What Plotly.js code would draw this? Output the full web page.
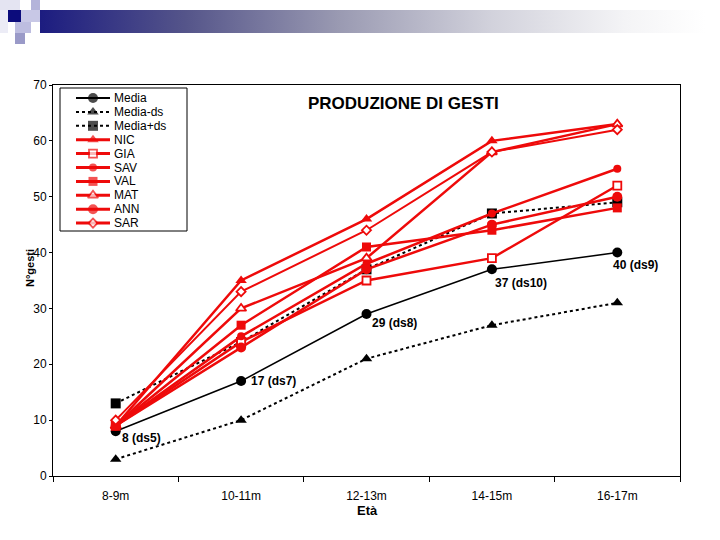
<!DOCTYPE html>
<html>
<head>
<meta charset="utf-8">
<script src="https://cdn.plot.ly/plotly-3.0.1.min.js"></script>
<style>
  html, body { margin:0; padding:0; background:#fff; }
  #wrap { position:relative; width:720px; height:540px; overflow:hidden; }
  #chart { position:absolute; left:0; top:0; width:720px; height:540px; }
  .deco { position:absolute; pointer-events:none; }
</style>
</head>
<body>
<div id="wrap">
  <div id="chart"></div>
  <div class="deco" style="left:40px;top:10px;width:665px;height:23px;background:linear-gradient(to right,#1c1c80 0%,#55558a 22%,#9a9ab2 45%,#d2d2dc 68%,#f4f4f6 88%,#ffffff 100%);"></div>
  <div class="deco" style="left:0px;top:0px;width:20px;height:10px;background:#e4e4f2;"></div>
  <div class="deco" style="left:31px;top:0px;width:9px;height:10px;background:#b4b4da;"></div>
  <div class="deco" style="left:8px;top:10px;width:13px;height:12px;background:#0c0c7c;"></div>
  <div class="deco" style="left:21px;top:10px;width:19px;height:12px;background:#c8c8e6;"></div>
  <div class="deco" style="left:0px;top:10px;width:8px;height:23px;background:#ececf6;"></div>
  <div class="deco" style="left:15px;top:22px;width:16px;height:11px;background:#bdbde0;"></div>
  <div class="deco" style="left:15px;top:33px;width:10px;height:11px;background:#9a9ac8;"></div>
</div>
<script>
// ---- data ----
const categories = ['8-9m', '10-11m', '12-13m', '14-15m', '16-17m'];
const media      = [8, 17, 29, 37, 40];
const mediaMinus = [3, 10, 21, 27, 31];
const mediaPlus  = [13, 24, 37, 47, 49];
const nic = [9, 35, 46, 60, 63];
const gia = [9, 24, 35, 39, 52];
const sav = [9, 25, 38, 47, 55];
const val = [9, 27, 41, 44, 48];
const mat = [9, 30, 39, 58, 63];
const ann = [9, 23, 37, 45, 50];
const sar = [10, 33, 44, 58, 62];
const mediaLabels = ['8 (ds5)', '17 (ds7)', '29 (ds8)', '37 (ds10)', '40 (ds9)'];
const seriesNames = ['Media', 'Media-ds', 'Media+ds', 'NIC', 'GIA', 'SAV', 'VAL', 'MAT', 'ANN', 'SAR'];
const yTicks = [0, 10, 20, 30, 40, 50, 60, 70];

// ---- styles ----
const RED = '#ee0a0a';
const seriesValues = [media, mediaMinus, mediaPlus, nic, gia, sav, val, mat, ann, sar];
const styles = [
  {color:'#000', width:1.5, dash:'solid', symbol:'circle', size:10, fill:'#000'},
  {color:'#000', width:2, dash:'dot', symbol:'triangle-up', size:10, fill:'#000'},
  {color:'#000', width:2, dash:'dot', symbol:'square', size:10, fill:'#000'},
  {color:RED, width:2.5, dash:'solid', symbol:'triangle-up', size:10, fill:RED},
  {color:RED, width:2.5, dash:'solid', symbol:'square', size:8, fill:'#fff'},
  {color:RED, width:2.5, dash:'solid', symbol:'circle', size:8, fill:RED},
  {color:RED, width:2.5, dash:'solid', symbol:'square', size:9, fill:RED},
  {color:RED, width:2.5, dash:'solid', symbol:'triangle-up', size:9, fill:'#fff'},
  {color:RED, width:2.5, dash:'solid', symbol:'circle', size:10, fill:RED},
  {color:RED, width:2, dash:'solid', symbol:'diamond', size:7, fill:'#fff'}
];
// label offsets (px) for the Media annotations
const labelShift = [[4,-7],[8,0],[3,-9],[1,-14],[-6,-12]];

// plot-area pixel geometry
const L = 53, R = 680, T = 85, B = 476;
const px2x = p => (p - L) / (R - L);
const py2y = p => (B - p) / (B - T);

const traces = [];
seriesValues.forEach((vals, i) => {
  const s = styles[i];
  traces.push({
    type:'scatter', mode:'lines+markers', x:categories, y:vals, name:seriesNames[i],
    showlegend:false, hoverinfo:'skip',
    line:{color:s.color, width:s.width, dash:s.dash},
    marker:{symbol:s.symbol, size:s.size, color:s.fill, line:{color:s.color, width: s.fill === '#fff' ? 1.8 : 0}}
  });
});

// custom legend (compact, as in the reference)
const legTop = 98, legStep = 13.9;
const annotations = [];
seriesNames.forEach((nm, i) => {
  const s = styles[i];
  const yy = py2y(legTop + i * legStep);
  traces.push({
    type:'scatter', mode:'lines+markers', xaxis:'x2', yaxis:'y2',
    x:[px2x(76), px2x(93), px2x(110)], y:[yy, yy, yy],
    showlegend:false, hoverinfo:'skip',
    line:{color:s.color, width: i < 3 ? 2 : 3, dash:s.dash},
    marker:{symbol:s.symbol, size:[0, s.size, 0], color:s.fill, line:{color:s.color, width: s.fill === '#fff' ? 1.8 : 0}}
  });
  annotations.push({
    xref:'paper', yref:'paper', x:px2x(112), y:yy, xanchor:'left', yanchor:'middle',
    text:nm, showarrow:false, font:{family:'Liberation Sans, Arial, sans-serif', size:12, color:'#000'}
  });
});

// Media labels
media.forEach((v, i) => {
  annotations.push({
    x:categories[i], y:v, xref:'x', yref:'y', text:'<b>' + mediaLabels[i] + '</b>',
    showarrow:false, xanchor:'left', yanchor:'middle',
    xshift:labelShift[i][0], yshift:labelShift[i][1],
    font:{family:'Liberation Sans, Arial, sans-serif', size:12, color:'#000'}
  });
});

// titles
annotations.push({xref:'paper', yref:'paper', x:px2x(403), y:py2y(104), text:'<b>PRODUZIONE DI GESTI</b>',
  showarrow:false, xanchor:'center', yanchor:'middle', font:{family:'Liberation Sans, Arial, sans-serif', size:17, color:'#000'}});
annotations.push({xref:'paper', yref:'paper', x:px2x(30), y:py2y(268), text:'<b>N°gesti</b>', textangle:-90,
  showarrow:false, xanchor:'center', yanchor:'middle', font:{family:'Liberation Sans, Arial, sans-serif', size:11, color:'#000'}});
annotations.push({xref:'paper', yref:'paper', x:px2x(367), y:py2y(510), text:'<b>Età</b>',
  showarrow:false, xanchor:'center', yanchor:'middle', font:{family:'Liberation Sans, Arial, sans-serif', size:13, color:'#000'}});

const layout = {
  width:720, height:540,
  margin:{l:L, r:720 - R, t:T, b:540 - B, pad:0},
  paper_bgcolor:'rgba(0,0,0,0)', plot_bgcolor:'rgba(0,0,0,0)',
  showlegend:false,
  font:{family:'Liberation Sans, Arial, sans-serif', size:12, color:'#000'},
  xaxis:{
    type:'category', categoryorder:'array', categoryarray:categories, range:[-0.5, 4.5],
    showline:true, linecolor:'#000', linewidth:1, mirror:true, showgrid:false, zeroline:false,
    ticks:'outside', tickson:'boundaries', ticklen:5, tickcolor:'#000', tickwidth:1,
    tickfont:{size:12, color:'#000'}, ticklabelstandoff:9, fixedrange:true
  },
  yaxis:{
    range:[0, 70], tickvals:yTicks, showline:true, linecolor:'#000', linewidth:1, mirror:true,
    showgrid:false, zeroline:false, ticks:'outside', ticklen:3, tickcolor:'#000',
    tickfont:{size:12, color:'#000'}, fixedrange:true
  },
  xaxis2:{overlaying:'x', anchor:'y2', range:[0,1], visible:false, fixedrange:true},
  yaxis2:{overlaying:'y', anchor:'x2', range:[0,1], visible:false, fixedrange:true},
  shapes:[{type:'rect', xref:'paper', yref:'paper', x0:px2x(60), x1:px2x(187), y0:py2y(231), y1:py2y(88),
    line:{color:'#000', width:1}, fillcolor:'#fff', layer:'below'}],
  annotations:annotations
};

Plotly.newPlot('chart', traces, layout, {staticPlot:true, displayModeBar:false});
</script>
</body>
</html>
